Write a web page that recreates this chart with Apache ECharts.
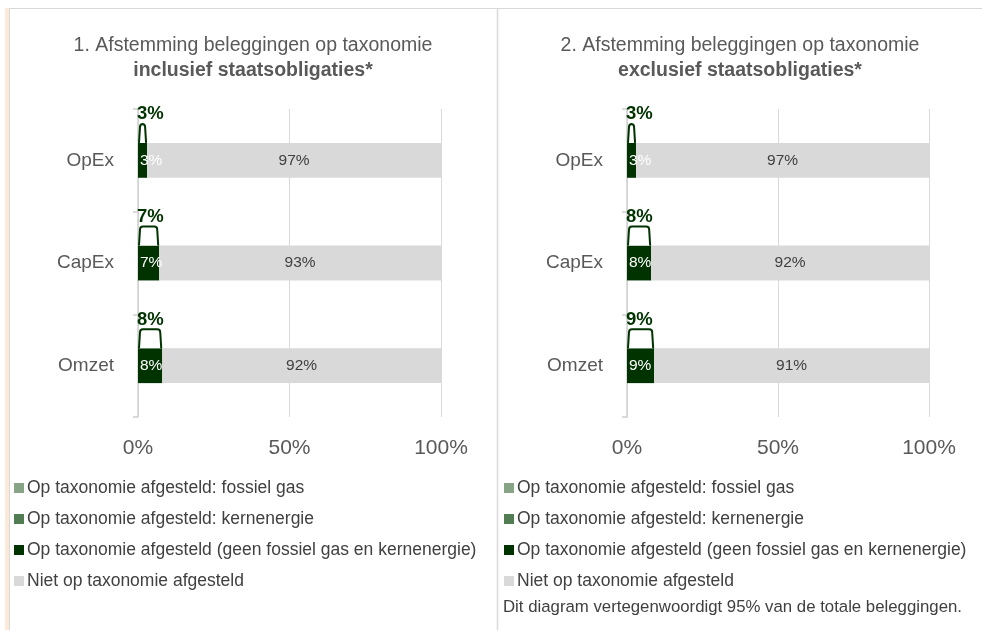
<!DOCTYPE html>
<html><head><meta charset="utf-8">
<script src="https://cdn.jsdelivr.net/npm/echarts@6/dist/echarts.min.js"></script>
<style>html,body{margin:0;padding:0;background:#fff}#c{width:982px;height:630px}</style>
</head><body><div id="c"></div>
<script>
const categories = ['OpEx', 'CapEx', 'Omzet'];
const seriesNames = [
  'Op taxonomie afgesteld: fossiel gas',
  'Op taxonomie afgesteld: kernenergie',
  'Op taxonomie afgesteld (geen fossiel gas en kernenergie)',
  'Niet op taxonomie afgesteld'
];
const colors = ['#87a487', '#527d52', '#003300', '#d9d9d9'];
// Panel 1: inclusief staatsobligaties
const inclFossil = [0, 0, 0];
const inclNuclear = [0, 0, 0];
const inclAligned = [3, 7, 8];
const inclNot = [97, 93, 92];
// Panel 2: exclusief staatsobligaties
const exclFossil = [0, 0, 0];
const exclNuclear = [0, 0, 0];
const exclAligned = [3, 8, 9];
const exclNot = [97, 92, 91];
const xTickMin = 0, xTickMax = 100, xTickStep = 50;
const titles1 = ['1. Afstemming beleggingen op taxonomie', 'inclusief staatsobligaties*'];
const titles2 = ['2. Afstemming beleggingen op taxonomie', 'exclusief staatsobligaties*'];
const footnote = 'Dit diagram vertegenwoordigt 95% van de totale beleggingen.';

const FONT = 'Liberation Sans, Arial, sans-serif';
const BAR_RATIO = 0.34;

function pct(p) { return p.value > 0 ? p.value + '%' : ''; }

function renderCallout(params, api) {
  const v = api.value(0), c = api.value(1);
  const p0 = api.coord([0, c]);
  const p1 = api.coord([v, c]);
  const band = api.size([0, 1])[1];
  const top = p0[1] - band * BAR_RATIO / 2;
  const x0 = p0[0] + 1, x1 = p1[0] - 1;
  const h = 19, r = 3;
  const d = 'M' + x0 + ' ' + top +
    ' L' + (x0 + 1) + ' ' + (top - h + r) +
    ' Q' + (x0 + 1) + ' ' + (top - h) + ' ' + (x0 + 1 + r) + ' ' + (top - h) +
    ' L' + (x1 - 1 - r) + ' ' + (top - h) +
    ' Q' + (x1 - 1) + ' ' + (top - h) + ' ' + (x1 - 1) + ' ' + (top - h + r) +
    ' L' + x1 + ' ' + top;
  return {
    type: 'group',
    children: [
      { type: 'path', shape: { pathData: d }, style: { fill: '#fff', stroke: '#003300', lineWidth: 2 } },
      { type: 'text', style: { text: v + '%', x: p0[0] - 1, y: top - h, align: 'left', verticalAlign: 'bottom',
          fontSize: 18.5, fontWeight: 'bold', fontFamily: FONT, fill: '#003300' } }
    ]
  };
}

function panelSeries(idx, vals) {
  const out = [];
  vals.forEach((arr, i) => {
    const s = {
      name: seriesNames[i], type: 'bar', stack: 'p' + idx, xAxisIndex: idx, yAxisIndex: idx,
      data: arr, barWidth: (BAR_RATIO * 100) + '%', itemStyle: { color: colors[i] },
      emphasis: { disabled: true }, animation: false,
      label: { show: false }
    };
    if (i === 2) s.label = { show: true, position: 'insideLeft', distance: 2, formatter: pct, color: '#ffffff', fontSize: 15.5, fontFamily: FONT };
    if (i === 3) s.label = { show: true, position: 'inside', formatter: pct, color: '#404040', fontSize: 15.5, fontFamily: FONT };
    out.push(s);
  });
  out.push({
    type: 'custom', xAxisIndex: idx, yAxisIndex: idx, renderItem: renderCallout, animation: false, z: 5,
    encode: { x: 0, y: 1 },
    data: vals[2].map((v, k) => [v, k]), silent: true
  });
  return out;
}

function xAxis(idx) {
  return {
    gridIndex: idx, type: 'value', min: xTickMin, max: xTickMax, interval: xTickStep,
    axisLine: { show: false }, axisTick: { show: false },
    splitLine: { show: true, lineStyle: { color: '#d9d9d9', width: 1 } },
    axisLabel: { formatter: '{value}%', fontSize: 21, color: '#595959', fontFamily: FONT, margin: 21 }
  };
}
function yAxis(idx) {
  return {
    gridIndex: idx, type: 'category', data: categories, inverse: true,
    axisLine: { show: true, lineStyle: { color: '#d0d0d0', width: 1.5 } },
    axisTick: { show: true, length: 5, lineStyle: { color: '#d0d0d0', width: 1.5 } },
    axisLabel: { fontSize: 19, color: '#595959', fontFamily: FONT, margin: 24 }
  };
}
function legend(left) {
  return {
    orient: 'vertical', left: left, top: 474, itemWidth: 10, itemHeight: 10, itemGap: 13, icon: 'rect',
    data: seriesNames, selectedMode: false,
    textStyle: { fontSize: 17.5, color: '#404040', fontFamily: FONT, lineHeight: 18, padding: [0, 0, 0, -2] }
  };
}
function titleText(x, lines) {
  return [
    { type: 'text', x: x, y: 46, style: { text: lines[0], align: 'center', verticalAlign: 'middle', fontSize: 19.5, fill: '#595959', fontFamily: FONT } },
    { type: 'text', x: x, y: 71, style: { text: lines[1], align: 'center', verticalAlign: 'middle', fontSize: 19.5, fontWeight: 'bold', fill: '#595959', fontFamily: FONT } }
  ];
}

const chart = echarts.init(document.getElementById('c'), null, { renderer: 'canvas' });
chart.setOption({
  backgroundColor: '#ffffff',
  animation: false,
  grid: [
    { left: 138, width: 303, top: 109, height: 308 },
    { left: 627, width: 302, top: 109, height: 308 }
  ],
  xAxis: [xAxis(0), xAxis(1)],
  yAxis: [yAxis(0), yAxis(1)],
  legend: [legend(9), legend(499)],
  series: panelSeries(0, [inclFossil, inclNuclear, inclAligned, inclNot])
    .concat(panelSeries(1, [exclFossil, exclNuclear, exclAligned, exclNot])),
  graphic: [
    { type: 'rect', shape: { x: 5, y: 8, width: 4, height: 622 }, style: { fill: '#fde9d9' }, silent: true },
    { type: 'line', shape: { x1: 9.5, y1: 8, x2: 9.5, y2: 630 }, style: { stroke: '#d9d9d9', lineWidth: 1 }, silent: true },
    { type: 'line', shape: { x1: 9, y1: 8.5, x2: 982, y2: 8.5 }, style: { stroke: '#d9d9d9', lineWidth: 1 }, silent: true },
    { type: 'line', shape: { x1: 497.5, y1: 9, x2: 497.5, y2: 630 }, style: { stroke: '#d9d9d9', lineWidth: 1.5 }, silent: true },
    ...titleText(253, titles1),
    ...titleText(740, titles2),
    { type: 'text', x: 503, y: 607, style: { text: footnote, align: 'left', verticalAlign: 'middle', fontSize: 16.8, fill: '#404040', fontFamily: FONT } }
  ]
});
</script></body></html>
